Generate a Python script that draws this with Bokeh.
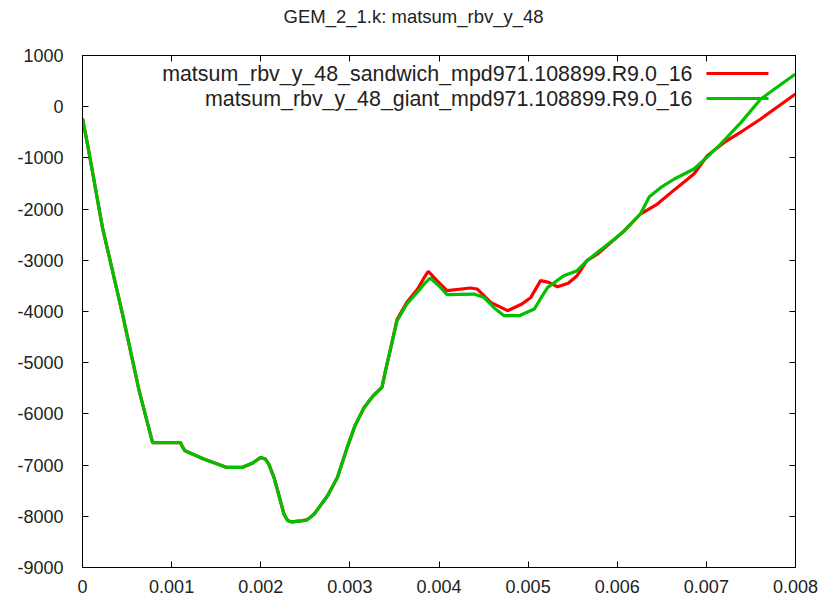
from bokeh.plotting import figure
from bokeh.models import (FixedTicker, LinearAxis, Label, BoxAnnotation, Range1d)
from bokeh.embed import file_html
from bokeh.resources import INLINE

title_text = "GEM_2_1.k: matsum_rbv_y_48"
name_sandwich = "matsum_rbv_y_48_sandwich_mpd971.108899.R9.0_16"
name_giant = "matsum_rbv_y_48_giant_mpd971.108899.R9.0_16"

x_ticks = [0, 0.001, 0.002, 0.003, 0.004, 0.005, 0.006, 0.007, 0.008]
x_tick_labels = ["0", "0.001", "0.002", "0.003", "0.004", "0.005", "0.006", "0.007", "0.008"]
y_ticks = [-9000, -8000, -7000, -6000, -5000, -4000, -3000, -2000, -1000, 0, 1000]
y_tick_labels = ["-9000", "-8000", "-7000", "-6000", "-5000", "-4000", "-3000", "-2000", "-1000", "0", "1000"]

giant_x = [0.0, 0.000056, 0.000224, 0.000449, 0.000636, 0.000786, 0.0011, 0.00112, 0.00115, 0.00136,
           0.00162, 0.00179, 0.00191, 0.0020, 0.00205, 0.00209, 0.00215, 0.0022, 0.00226, 0.0023,
           0.00235, 0.00245, 0.00252, 0.0026, 0.00275, 0.00286, 0.00297, 0.00306, 0.00316,
           0.00326, 0.00336, 0.0034, 0.00346, 0.00353, 0.00364, 0.00376, 0.00384, 0.0039,
           0.004, 0.00409, 0.00425, 0.00439, 0.0045, 0.00462, 0.00473, 0.0049, 0.00507,
           0.00515, 0.00522, 0.0054, 0.00555, 0.00566, 0.00578, 0.00593, 0.00608, 0.00626,
           0.00636, 0.00649, 0.00664, 0.00686, 0.007, 0.00716, 0.00739, 0.00761, 0.0078, 0.008]
giant_y = [-230, -730, -2360, -4050, -5550, -6560, -6560, -6640, -6720, -6880,
           -7045, -7045, -6960, -6850, -6880, -6980, -7250, -7565, -7955, -8080,
           -8110, -8090, -8070, -7955, -7600, -7240, -6654, -6220, -5873,
           -5650, -5482, -5156, -4701, -4180, -3854, -3620, -3450, -3346,
           -3500, -3672, -3665, -3659, -3720, -3930, -4082, -4082, -3952,
           -3720, -3529, -3301, -3203, -3008, -2845, -2640, -2422, -2096,
           -1760, -1576, -1412, -1217, -1000, -729, -306, 150, 390, 639]

sandwich_x = [0.0, 0.000056, 0.000224, 0.000449, 0.000636, 0.000786, 0.0011, 0.00112, 0.00115, 0.00136,
              0.00162, 0.00179, 0.00191, 0.0020, 0.00205, 0.00209, 0.00215, 0.0022, 0.00226, 0.0023,
              0.00235, 0.00245, 0.00252, 0.0026, 0.00275, 0.00286, 0.00297, 0.00306, 0.00316,
              0.00326, 0.00336, 0.0034, 0.00346, 0.00353, 0.00364, 0.00376, 0.00383, 0.00388,
              0.00398, 0.00409, 0.00425, 0.00435, 0.00443, 0.00458, 0.00477, 0.00493,
              0.00503, 0.00514, 0.00523, 0.00533, 0.00545, 0.00555, 0.00566, 0.00578, 0.00593,
              0.00608, 0.00626, 0.00645, 0.00665, 0.00686, 0.00701, 0.0072, 0.0074, 0.00761,
              0.0078, 0.008]
sandwich_y = [-230, -730, -2360, -4050, -5550, -6560, -6560, -6640, -6720, -6880,
              -7045, -7045, -6960, -6850, -6880, -6980, -7250, -7565, -7955, -8080,
              -8110, -8090, -8070, -7955, -7600, -7240, -6654, -6220, -5873,
              -5650, -5482, -5156, -4701, -4150, -3820, -3560, -3350, -3216,
              -3400, -3594, -3560, -3541, -3561, -3822, -3984, -3854,
              -3725, -3398, -3432, -3516, -3450, -3301, -3008, -2877, -2650,
              -2422, -2096, -1901, -1610, -1315, -957, -697, -480, -240,
              0, 248]

FONT = "Liberation Sans"
TEXT_COLOR = "#222222"

p = figure(width=823, height=606, output_backend="svg", toolbar_location=None,
           x_range=Range1d(0, 0.008), y_range=Range1d(-9000, 1000),
           min_border_left=82, min_border_right=28, min_border_top=55, min_border_bottom=39)
p.background_fill_color = "white"
p.border_fill_color = "white"
p.outline_line_color = "black"
p.outline_line_width = 1
p.xgrid.visible = False
p.ygrid.visible = False

# gnuplot centres the title on the canvas, not on the frame
p.title.text = title_text
p.title.align = "left"
p.title.offset = 201
p.title.text_font = FONT
p.title.text_font_size = "18.5px"
p.title.text_font_style = "normal"
p.title.text_color = TEXT_COLOR
p.title.standoff = 2
p.title.padding = dict(left=0, right=0, top=0, bottom=28)

def style_axis(ax, ticks, labels, show_labels, standoff):
    ax.ticker = FixedTicker(ticks=ticks)
    ax.major_label_overrides = {t: l for t, l in zip(ticks, labels)}
    ax.minor_tick_line_color = None
    ax.major_tick_in = 6
    ax.major_tick_out = 0
    ax.major_tick_line_color = "black"
    ax.axis_line_color = "black"
    ax.major_label_text_font = FONT
    ax.major_label_text_font_size = "18px" if show_labels else "0px"
    ax.major_label_text_color = TEXT_COLOR
    ax.major_label_standoff = standoff

style_axis(p.xaxis[0], x_ticks, x_tick_labels, True, 12)
style_axis(p.yaxis[0], y_ticks, y_tick_labels, True, 19)

top_axis = LinearAxis()
style_axis(top_axis, x_ticks, x_tick_labels, False, 0)
p.add_layout(top_axis, "above")
right_axis = LinearAxis()
style_axis(right_axis, y_ticks, y_tick_labels, False, 0)
p.add_layout(right_axis, "right")

p.line(sandwich_x, sandwich_y, line_color="#ff0000", line_width=3.2)
p.line(giant_x, giant_y, line_color="#00c000", line_width=3.2)

# gnuplot-style key: right-aligned text with sample line on the right
names = [name_sandwich, name_giant]
colors = ["#ff0000", "#00c000"]
for i, (nm, col) in enumerate(zip(names, colors)):
    yy = 494 - i * 25
    p.add_layout(Label(x=610, y=yy, x_units="screen", y_units="screen", text=nm,
                       text_align="right", text_baseline="middle", text_font=FONT,
                       text_font_size="21.4px", text_color=TEXT_COLOR))
    p.add_layout(BoxAnnotation(left=624, right=686, top=yy + 1.6, bottom=yy - 1.6,
                               left_units="screen", right_units="screen",
                               top_units="screen", bottom_units="screen",
                               fill_color=col, fill_alpha=1.0, line_color=None))

open("out.html", "w").write(file_html(p, INLINE))
